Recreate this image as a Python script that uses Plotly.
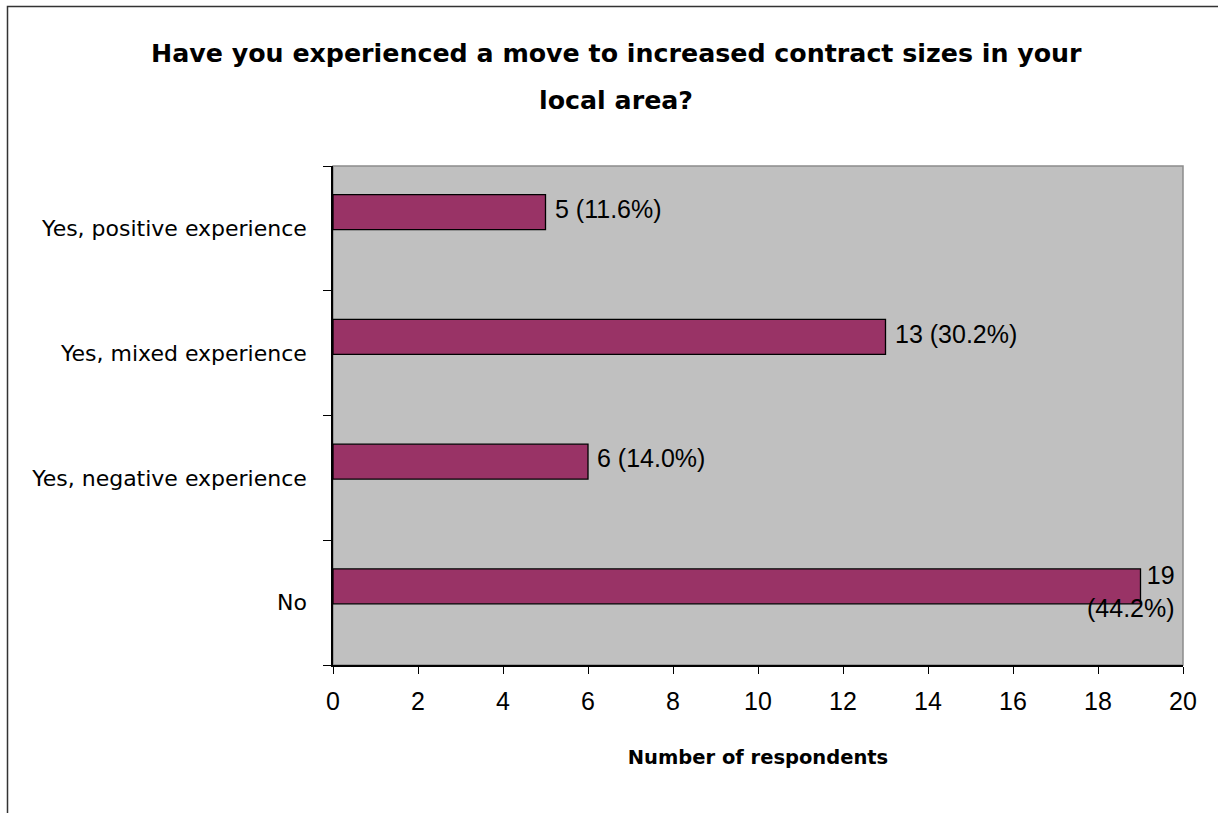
import plotly.graph_objects as go

categories = ["No", "Yes, negative experience", "Yes, mixed experience", "Yes, positive experience"]
counts = [19, 6, 13, 5]
percents = [44.2, 14.0, 30.2, 11.6]
x_ticks = [0, 2, 4, 6, 8, 10, 12, 14, 16, 18, 20]

title_lines = ["Have you experienced a move to increased contract sizes in your", "local area?"]
x_title = "Number of respondents"

W, H = 1218, 813
L, R, T, B = 333, 35, 166, 148
XMAX = 20
pw = W - L - R
ph = H - T - B
band = ph / 4.0

fig = go.Figure()
fig.add_trace(go.Bar(
    y=categories, x=counts, orientation="h",
    marker=dict(color="#993366", line=dict(color="#000000", width=1.3)),
    width=0.28, offset=-0.01, hoverinfo="skip",
))

lab_font = dict(family="Liberation Sans, Arial", size=25, color="#000")
for c, v, p in zip(categories, counts, percents):
    if v + 3 > XMAX:
        fig.add_annotation(x=v, y=c, yshift=0.14 * band - 6, xref="x", yref="y",
                           text=f"{v}<br>({p:.1f}%)", showarrow=False,
                           xanchor="right", yanchor="middle", align="right", xshift=36,
                           font=lab_font)
    else:
        fig.add_annotation(x=v, y=c, yshift=0.14 * band + 2, xref="x", yref="y",
                           text=f"{v} ({p:.1f}%)", showarrow=False,
                           xanchor="left", yanchor="middle", xshift=7,
                           font=lab_font)

# title (two lines with wide line spacing)
title_font = dict(family="DejaVu Sans", size=25.3, color="#000000", weight="bold")
for i, line in enumerate(title_lines):
    base_y = 64 + 47 * i  # baseline in pixels from top
    fig.add_annotation(xref="paper", yref="paper", x=(616 - L) / pw,
                       y=1 + (T - base_y) / ph, xanchor="center", yanchor="bottom",
                       yshift=-6, text=line, showarrow=False, font=title_font)

# outer chart border (extends past right/bottom of the view)
fig.add_shape(type="rect", xref="paper", yref="paper",
              x0=(7.5 - L) / pw, x1=(W + 20 - L) / pw,
              y0=-(B + 20) / ph, y1=1 + (T - 6.5) / ph,
              line=dict(color="#333333", width=1.5), fillcolor="rgba(0,0,0,0)", layer="below")
# plot area top/right border
fig.add_shape(type="rect", xref="paper", yref="paper", x0=0, x1=1, y0=0, y1=1,
              line=dict(color="#8c8c8c", width=1.5), fillcolor="rgba(0,0,0,0)", layer="below")

fig.update_layout(
    width=W, height=H,
    margin=dict(l=L, r=R, t=T, b=B, pad=0),
    paper_bgcolor="#ffffff", plot_bgcolor="#c0c0c0",
    showlegend=False,
    xaxis=dict(range=[0, XMAX], tickvals=x_ticks, showgrid=False, zeroline=False,
               showline=True, linecolor="#000000", linewidth=1.5,
               ticks="outside", ticklen=7, tickcolor="#000000", tickwidth=1.2,
               ticklabelstandoff=6,
               tickfont=dict(family="Liberation Sans, Arial", size=25, color="#000"),
               title=dict(text=x_title, standoff=37,
                          font=dict(family="DejaVu Sans", size=19.5, color="#000", weight="bold"))),
    yaxis=dict(categoryorder="array", categoryarray=categories, range=[-0.5, 3.5],
               showgrid=False, zeroline=False, showline=True, linecolor="#000000", linewidth=1.5,
               ticks="outside", ticklen=8, tickcolor="#000000", tickwidth=1.2, tickson="boundaries",
               ticklabelstandoff=20,
               tickfont=dict(family="DejaVu Sans", size=22, color="#000")),
)

fig.write_html("out.html", config={"displayModeBar": False},
               post_script="document.body.style.margin='0px';")
